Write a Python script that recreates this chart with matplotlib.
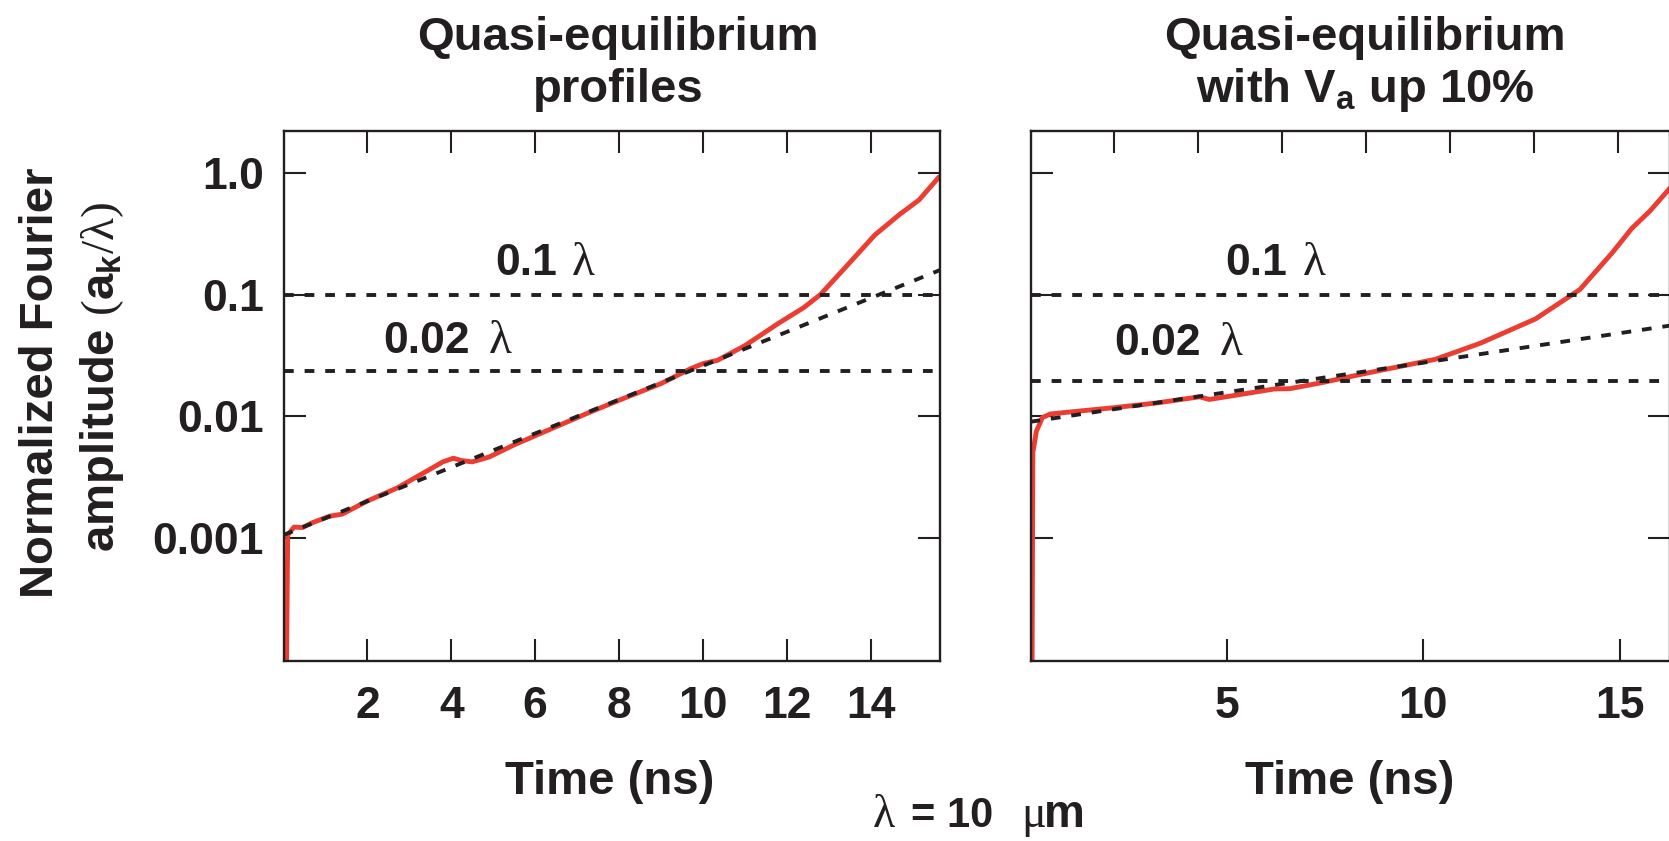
import matplotlib
matplotlib.use("Agg")
import matplotlib.pyplot as plt
from matplotlib.ticker import NullLocator

plt.rcParams['font.family'] = ['Liberation Sans', 'DejaVu Sans']
plt.rcParams['mathtext.fontset'] = 'custom'
plt.rcParams['mathtext.rm'] = 'Liberation Serif:weight=normal'
plt.rcParams['mathtext.bf'] = 'Liberation Sans:bold'
plt.rcParams['mathtext.it'] = 'Liberation Sans:bold'

# ---------------- data ----------------
# left panel: quasi-equilibrium profiles
left_t = [0.07, 0.10, 0.25, 0.45, 0.7, 1.1, 1.4, 2.0, 2.7, 3.4, 3.8, 4.05, 4.25,
          4.5, 4.9, 5.5, 6.4, 7.2, 8.0, 9.0, 9.7, 10.0, 10.35, 11.0, 11.8, 12.4,
          12.8, 13.4, 14.1, 14.7, 15.15, 15.63]
left_amp = [8e-5, 0.00105, 0.00122, 0.00121, 0.00133, 0.00150, 0.00156, 0.00200,
            0.00255, 0.0035, 0.0042, 0.0045, 0.0043, 0.0042, 0.0046, 0.0058, 0.0079,
            0.0104, 0.0135, 0.0185, 0.0245, 0.0270, 0.0288, 0.038, 0.058, 0.078,
            0.100, 0.168, 0.31, 0.46, 0.60, 0.93]
left_fit_t = [0.0, 15.65]
left_fit_amp = [0.00105, 0.159]
left_levels = [0.1, 0.0236]

# right panel: quasi-equilibrium with Va up 10%
right_t = [0.04, 0.06, 0.15, 0.3, 0.5, 1.0, 2.1, 3.2, 4.3, 4.55, 5.2, 6.2, 6.6, 7.4,
           8.6, 10.3, 11.45, 12.85, 13.98, 14.8, 15.3, 15.77, 16.27]
right_amp = [8e-5, 0.0050, 0.0075, 0.0097, 0.0104, 0.0108, 0.0117, 0.0128, 0.0144,
             0.0137, 0.0148, 0.0167, 0.0168, 0.0188, 0.0227, 0.0293, 0.0398, 0.063,
             0.11, 0.22, 0.35, 0.49, 0.75]
right_fit_t = [0.0, 16.27]
right_fit_amp = [0.00898, 0.0555]
right_levels = [0.1, 0.0194]

yticks = [1.0, 0.1, 0.01, 0.001]
ytick_labels = ["1.0", "0.1", "0.01", "0.001"]
left_xticks = [2, 4, 6, 8, 10, 12, 14]
right_xticks = [5, 10, 15]

# ---------------- style ----------------
INK = '#231f20'
RED = '#ec3d32'
W, H = 1669, 841
DASH = (0, (2.5, 2.8))


def fx(px):
    return px / W


def fy(py):
    return 1 - py / H


fig = plt.figure(figsize=(W / 100, H / 100), dpi=100)
top_px, bot_px = 130.7, 660.7
ax1 = fig.add_axes([fx(283.5), fy(bot_px), (940 - 283.5) / W, (bot_px - top_px) / H])
ax2 = fig.add_axes([fx(1030.5), fy(bot_px), (1669.5 - 1030.5) / W, (bot_px - top_px) / H])


def style(ax):
    ax.set_yscale('log')
    ax.set_ylim(9.7e-5, 2.23)
    ax.yaxis.set_minor_locator(NullLocator())
    ax.set_yticks(yticks)
    for s in ax.spines.values():
        s.set_linewidth(1.7)
        s.set_color(INK)
    ax.tick_params(axis='both', which='major', direction='in', length=15.5,
                   width=1.5, color=INK, labelcolor=INK, labelsize=32)
    ax.tick_params(axis='x', pad=18)
    ax.tick_params(axis='y', pad=14, right=True)


style(ax1)
style(ax2)

ax1.set_xlim(0, 15.65)
ax1.set_xticks(left_xticks)
ax1.set_xticklabels([str(v) for v in left_xticks], fontweight='bold')
ax1.set_yticklabels(ytick_labels, fontweight='bold')
ax1.tick_params(axis='x', top=True)

ax2.set_xlim(0, 16.26)
ax2.set_xticks(right_xticks)
ax2.set_xticklabels([str(v) for v in right_xticks], fontweight='bold')
ax2.tick_params(axis='y', labelleft=False)

# top ticks of the right panel follow the left panel's 2-ns spacing
ax2t = ax2.twiny()
ax2t.set_xlim(0, 16.26 * 39.3 / 41.95)
ax2t.set_xticks(left_xticks)
ax2t.tick_params(axis='x', direction='in', length=15.5, width=1.5, color=INK,
                 top=True, bottom=False, labeltop=False, labelbottom=False)
for s in ax2t.spines.values():
    s.set_visible(False)

for ax, t, a, ft, fa, lev in [(ax1, left_t, left_amp, left_fit_t, left_fit_amp, left_levels),
                              (ax2, right_t, right_amp, right_fit_t, right_fit_amp, right_levels)]:
    ax.plot(t, a, color=RED, lw=3.5, solid_joinstyle='round', solid_capstyle='round', zorder=2)
    ax.plot(ft, fa, color=INK, lw=2.8, ls=DASH, zorder=3)
    for v in lev:
        ax.axhline(v, color=INK, lw=2.8, ls=DASH, zorder=3)

# ---------------- text ----------------
tkw = dict(color=INK, fontweight='bold')
skw = dict(color=INK, fontweight='normal', family=['Liberation Serif', 'DejaVu Serif'])
fig.text(fx(618), fy(50), "Quasi-equilibrium", ha='center', va='baseline', fontsize=34, **tkw)
fig.text(fx(618), fy(101.5), "profiles", ha='center', va='baseline', fontsize=34, **tkw)
fig.text(fx(1365), fy(50), "Quasi-equilibrium", ha='center', va='baseline', fontsize=34, **tkw)
fig.text(fx(1365), fy(101.5), r"with V$_{\mathbf{a}}$ up 10%", ha='center', va='baseline',
         fontsize=34, **tkw)

fig.text(fx(610), fy(794), "Time (ns)", ha='center', va='baseline', fontsize=34, **tkw)
fig.text(fx(1350), fy(794), "Time (ns)", ha='center', va='baseline', fontsize=34, **tkw)

fig.text(fx(40.6), fy(383), "Normalized Fourier", rotation=90, ha='center', va='center',
         fontsize=34, **tkw)
fig.text(fx(101.6), fy(377), r"amplitude $\mathrm{(}\mathbf{a}_{\mathbf{k}}\mathrm{/\lambda)}$",
         rotation=90, ha='center', va='center', fontsize=34, **tkw)

# threshold annotations: bold number followed by a light lambda
for x_num, x_lam, y_base, num in [(495, 572, 275, "0.1"), (383, 489, 353, "0.02"),
                                  (1225, 1303, 275, "0.1"), (1114, 1220, 355, "0.02")]:
    fig.text(fx(x_num), fy(y_base), num, ha='left', va='baseline', fontsize=32, **tkw)
    fig.text(fx(x_lam), fy(y_base), "λ", ha='left', va='baseline', fontsize=34, **skw)

# wavelength note
fig.text(fx(873), fy(826.7), "λ", ha='left', va='baseline', fontsize=33, **skw)
fig.text(fx(911), fy(826.7), "= 10", ha='left', va='baseline', fontsize=30, **tkw)
fig.text(fx(1021), fy(826.7), "μ", ha='left', va='baseline', fontsize=33, **skw)
fig.text(fx(1044), fy(826.7), "m", ha='left', va='baseline', fontsize=33, **tkw)

fig.savefig("out.png", dpi=100)
